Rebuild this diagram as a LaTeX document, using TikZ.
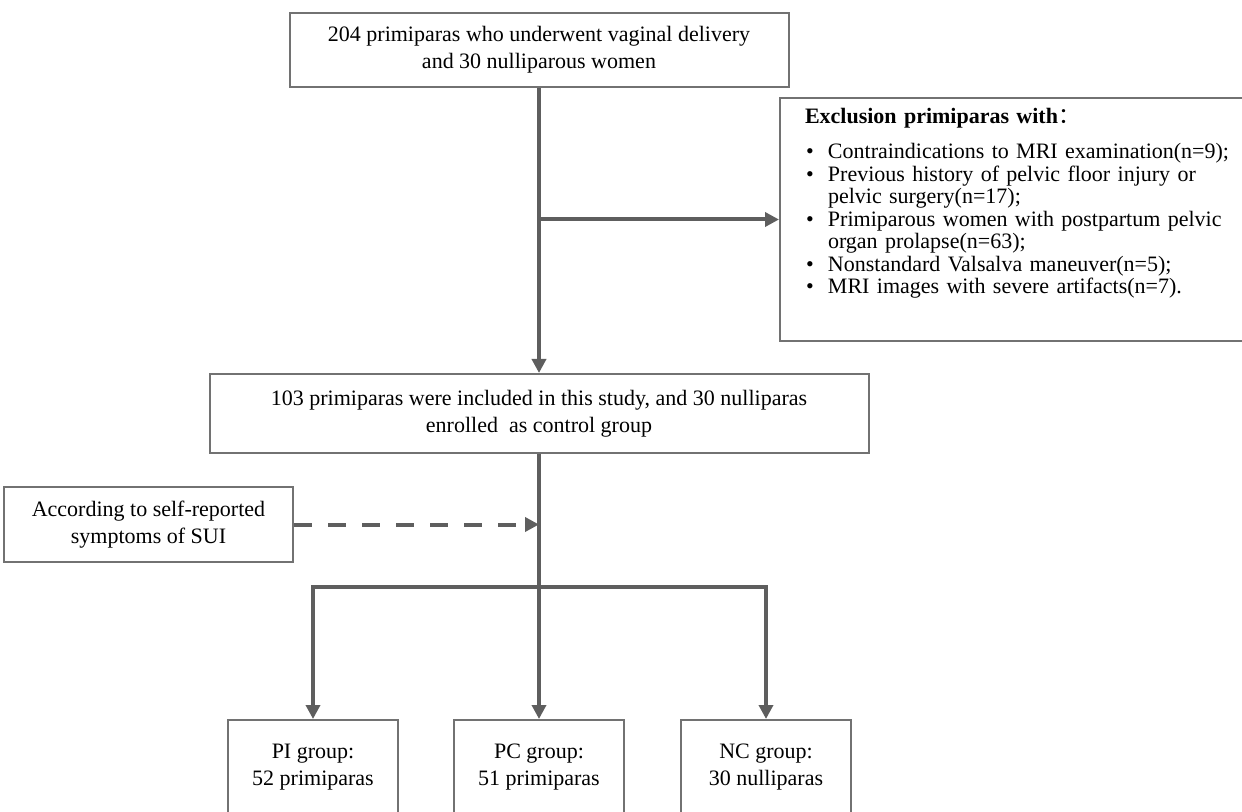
\documentclass[tikz,border=0pt]{standalone}
\usepackage{fontspec}
\setmainfont{Liberation Serif}
\newfontfamily\cjk{Noto Sans CJK SC}
\usetikzlibrary{arrows.meta, positioning, calc}
\definecolor{linegray}{HTML}{5E5E5E}
\definecolor{boxgray}{HTML}{727272}

\begin{document}
\begin{tikzpicture}[
    x=0.5pt, y=-0.5pt,
    font=\fontsize{11pt}{13.5pt}\selectfont,
    box/.style={
        rectangle, draw=boxgray, line width=1pt,
        fill=white, align=center, inner sep=0pt
    },
    group/.style={
        box, minimum width=85pt, minimum height=47.5pt
    },
    flow/.style={draw=linegray, line width=2pt, -{Triangle[length=7pt, width=7pt]}},
    link/.style={draw=linegray, line width=2pt},
    hint/.style={flow, dash pattern=on 9pt off 8pt}
]
\clip (0,0) rectangle (1242,812);

% 1. TOP SECTION: enrolled women
\node[box, minimum width=249.5pt, minimum height=37pt] (Start) at (539, 50)
    {204 primiparas who underwent vaginal delivery\\and 30 nulliparous women};

% Exclusion box
\node[box, anchor=north west, text width=210pt, align=left, inner xsep=12.5pt,
      minimum height=121.5pt, font=\fontsize{11pt}{11.25pt}\selectfont] (Excl) at (779, 97) {%
    \renewcommand{\arraystretch}{1}%
    \begin{tabular}{@{\hspace{0.5pt}}p{11pt}@{}l@{}}
    \multicolumn{2}{@{}l@{}}{\textbf{Exclusion primiparas with}{\cjk ：}}\\[6.25pt]
    \textbullet & Contraindications to MRI examination(n=9);\\
    \textbullet & Previous history of pelvic floor injury or\\
                & pelvic surgery(n=17);\\
    \textbullet & Primiparous women with postpartum pelvic\\
                & organ prolapse(n=63);\\
    \textbullet & Nonstandard Valsalva maneuver(n=5);\\
    \textbullet & MRI images with severe artifacts(n=7).\\[15pt]
    \end{tabular}};

% 2. CENTER SECTION: included women
\node[box, minimum width=329.5pt, minimum height=39.5pt] (Mid) at (539, 413.5)
    {103 primiparas were included in this study, and 30 nulliparas\\enrolled\ \ as control group};

\draw[flow] (Start.south) -- (Mid.north);
\draw[flow] (Start.south |- Excl.west) -- (Excl.west);

% Grouping criterion
\node[box, minimum width=144.5pt, minimum height=37.5pt] (SUI) at (148.5, 524.5)
    {According to self-reported\\symptoms of SUI};
\draw[hint] (SUI.east) -- (SUI.east -| Mid.south);

% 3. BOTTOM SECTION: groups
\node[group] (PI) at (313, 767.5) {PI group:\\52 primiparas};
\node[group] (PC) at (539, 767.5) {PC group:\\51 primiparas};
\node[group] (NC) at (766, 767.5) {NC group:\\30 nulliparas};

\coordinate (Fork) at (539, 587);
\draw[flow] (Mid.south) -- (PC.north);
\draw[flow] (Fork) -| (PI.north);
\draw[flow] (Fork) -| (NC.north);

\end{tikzpicture}
\end{document}
